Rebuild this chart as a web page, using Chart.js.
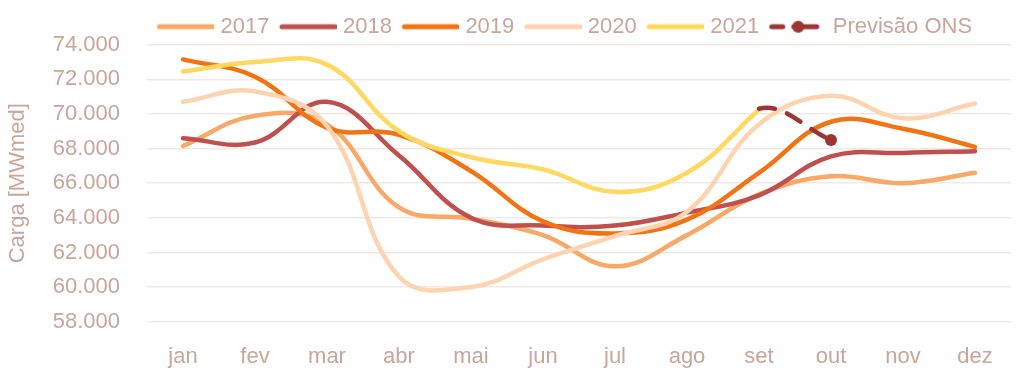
<!DOCTYPE html>
<html>
<head>
<meta charset="utf-8">
<script src="https://cdn.jsdelivr.net/npm/chart.js@4/dist/chart.umd.min.js"></script>
<style>
html,body{margin:0;padding:0;background:#fff;}
#wrap{width:1024px;height:372px;}
</style>
</head>
<body>
<div id="wrap"><canvas id="c" width="1024" height="372"></canvas></div>
<script>
const categories = ['jan','fev','mar','abr','mai','jun','jul','ago','set','out','nov','dez'];
const s2017 = [68150, 69900, 69400, 64600, 63950, 63000, 61200, 63000, 65350, 66400, 66000, 66600];
const s2018 = [68600, 68350, 70700, 67600, 64000, 63550, 63550, 64300, 65300, 67550, 67750, 67850];
const s2019 = [73150, 72150, 69200, 68800, 66700, 63800, 63100, 63900, 66600, 69550, 69150, 68100];
const s2020 = [70700, 71300, 69300, 60600, 60000, 61600, 62950, 64350, 69400, 71050, 69750, 70600];
const s2021 = [72450, 73000, 72850, 69000, 67500, 66800, 65500, 66600, 70250, null, null, null];
// forecast series; the 'ago' value (hidden segment) only shapes the curve leaving 'set'
const sONS  = [null, null, null, null, null, null, null, 66600, 70300, 68500, null, null];
const seriesNames = ['2017','2018','2019','2020','2021','Previsão ONS'];
const yMin = 58000, yMax = 74000, yStep = 2000;

const TXT = '#c9a59b';
const GRID = '#f3e7e4';
const FONT = 'Liberation Sans';
const colors = ['#f9a867','#c0504d','#f37312','#fdd3b0','#ffd95f','#9c3634'];
const FS = 22;
const BW = 52.5;

function lineImg(color, ons){
  const c = document.createElement('canvas');
  c.width = 62; c.height = 14;
  const g = c.getContext('2d');
  g.strokeStyle = color; g.fillStyle = color; g.lineWidth = 5; g.lineCap = 'round';
  g.beginPath();
  if (!ons) {
    g.moveTo(7.25, 7); g.lineTo(60.25, 7);
  } else {
    g.moveTo(7.25, 7); g.lineTo(18.25, 7);
    g.moveTo(29.25, 7); g.lineTo(52.25, 7);
  }
  g.stroke();
  if (ons) { g.beginPath(); g.arc(33.75, 7, 6, 0, Math.PI*2); g.fill(); }
  return c;
}

function fmt(v){ return String(v).replace(/\B(?=(\d{3})+(?!\d))/g, '.'); }

const allData = [s2017, s2018, s2019, s2020, s2021, sONS];
const datasets = allData.map((d, i) => {
  const ds = {
    label: seriesNames[i],
    data: d,
    borderColor: colors[i],
    backgroundColor: colors[i],
    borderWidth: 4.5,
    borderCapStyle: 'round',
    borderJoinStyle: 'round',
    tension: 0.4,
    fill: false,
    pointRadius: 0,
    pointBackgroundColor: colors[i],
    pointBorderWidth: 0,
    order: i === 5 ? -1 : 5 - i
  };
  if (i === 5) {
    ds.borderDash = [16, 13];
    ds.pointRadius = d.map((v, k) => (k === 9 ? 6 : 0));
    ds.segment = { borderColor: ctx => (ctx.p0DataIndex < 8 ? 'rgba(0,0,0,0)' : colors[5]) };
  }
  return ds;
});

const legendShift = {
  id: 'legendShift',
  afterLayout(chart){
    if (chart.legend){ chart.legend.top += 3; chart.legend.bottom += 3; }
  }
};

new Chart(document.getElementById('c'), {
  type: 'line',
  data: { labels: categories, datasets },
  plugins: [legendShift],
  options: {
    responsive: false,
    animation: false,
    layout: { padding: { top: 2.7, right: 13, left: 0, bottom: 0 } },
    font: { family: FONT },
    plugins: {
      tooltip: { enabled: false },
      legend: {
        position: 'top',
        align: 'start',
        fullSize: false,
        labels: {
          font: { family: FONT, size: FS },
          color: TXT,
          padding: 10,
          usePointStyle: true,
          pointStyleWidth: BW,
          generateLabels(chart){
            const items = Chart.defaults.plugins.legend.labels.generateLabels(chart);
            items.sort((a, b) => a.datasetIndex - b.datasetIndex);
            return items.map(it => Object.assign(it, {
              pointStyle: lineImg(colors[it.datasetIndex], it.datasetIndex === 5),
              fontColor: TXT, lineWidth: 0
            }));
          }
        }
      }
    },
    scales: {
      x: {
        offset: true,
        grid: { display: false, drawTicks: false },
        border: { display: false },
        ticks: { color: TXT, font: { family: FONT, size: FS }, padding: 22, maxRotation: 0 },
        afterFit(s){ s.height = 50.3; }
      },
      y: {
        min: yMin, max: yMax,
        grid: { color: GRID, lineWidth: 1.5, drawTicks: false },
        border: { display: false },
        ticks: { stepSize: yStep, color: TXT, font: { family: FONT, size: FS }, padding: 27, callback: v => fmt(v) },
        title: { display: true, text: 'Carga [MWmed]', color: TXT, font: { family: FONT, size: FS }, padding: { top: 5, bottom: 4 } },
        afterFit(s){ s.width = 147; }
      }
    }
  }
});
</script>
</body>
</html>
